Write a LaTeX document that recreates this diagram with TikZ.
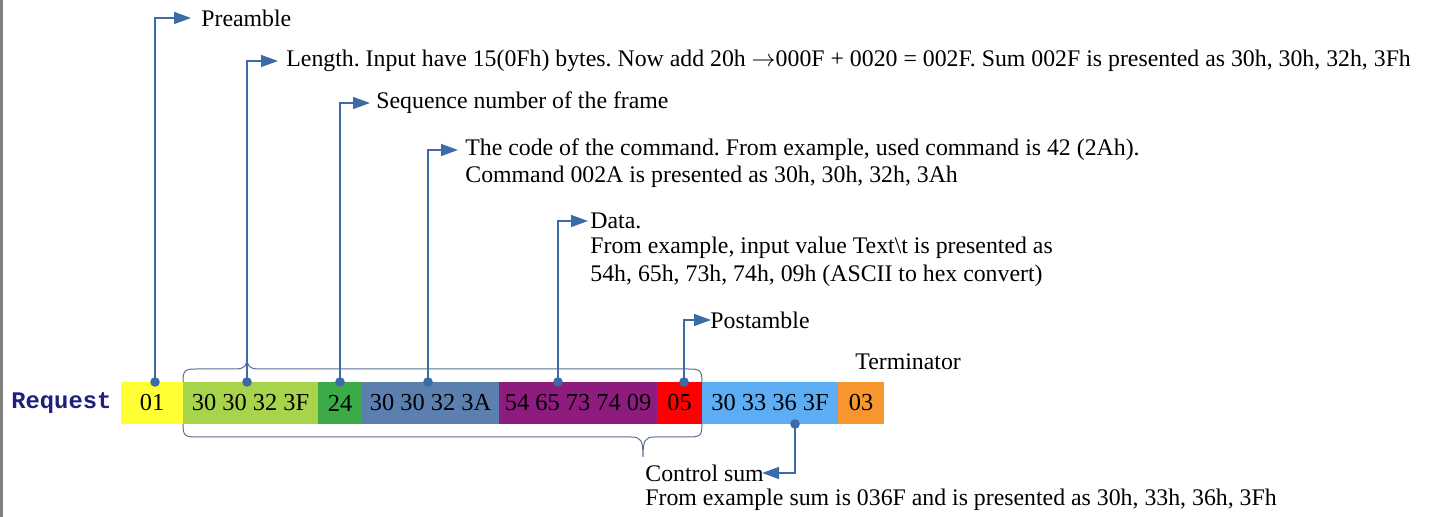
\documentclass[tikz,border=0pt]{standalone}
\usepackage{fontspec}
\setmainfont{Liberation Serif}
\setmonofont{Liberation Mono}
\usepackage{xcolor}
\usetikzlibrary{arrows.meta,calc,positioning}
\frenchspacing
\definecolor{frame}{HTML}{808080}
\definecolor{link}{HTML}{3B6CA8}
\definecolor{curl}{HTML}{5A6E8C}
\definecolor{req}{HTML}{1F1F80}
\definecolor{yel}{HTML}{FFFF33}
\definecolor{lime}{HTML}{A8D44C}
\definecolor{grn}{HTML}{3DAA48}
\definecolor{steel}{HTML}{5B7FAE}
\definecolor{plum}{HTML}{8E1C7E}
\definecolor{red}{HTML}{FF0000}
\definecolor{sky}{HTML}{5DADF5}
\definecolor{orng}{HTML}{F7962E}
\tikzset{
  fld/.style={draw=none, minimum height=21pt, inner sep=0pt, outer sep=0pt, font=\fontsize{12.2}{14}\selectfont},
  conn/.style={-{Triangle[length=8.5pt,width=6pt]}, line width=0.75pt, draw=link},
  dot/.style={circle, fill=link, inner sep=1.7pt},
  lbl/.style={anchor=west, inner sep=0pt, font=\fontsize{11.9}{14}\selectfont},
  brc/.style={draw=curl, line width=0.5pt}
}
\begin{document}
\begin{tikzpicture}[x=0.5pt, y=-0.5pt]
  \useasboundingbox (0,0) rectangle (1431,517);
  \draw[frame, line width=1.5pt] (1.5,0) -- (1.5,517);

  % the frame
  \node[anchor=west, inner sep=0pt, font=\ttfamily\bfseries\fontsize{11.9}{14}\selectfont, text=req] (request) at (11,403) {Request};
  \node[fld, fill=yel, minimum width=31pt] (pre) at (152,403) {01};
  \node[fld, fill=lime, minimum width=67.5pt, right=0pt of pre] (len) {30 30 32 3F};
  \node[fld, fill=grn, minimum width=22pt, right=0pt of len] (seq) {24};
  \node[fld, fill=steel, minimum width=68.5pt, right=0pt of seq] (cmd) {30 30 32 3A};
  \node[fld, fill=plum, minimum width=79pt, right=0pt of cmd] (dat) {54 65 73 74 09};
  \node[fld, fill=red, minimum width=22.5pt, right=0pt of dat] (post) {05};
  \node[fld, fill=sky, minimum width=68pt, right=0pt of post] (crc) {30 33 36 3F};
  \node[fld, fill=orng, minimum width=23pt, right=0pt of crc] (term) {03};

  % braces
  \draw[brc] (len.north west) .. controls (183,370) and (185,369) .. (197,369) -- (235,369)
    .. controls (245,369) and (247,366) .. (247,357) .. controls (247,366) and (249,369) .. (259,369)
    -- (688,369) .. controls (700,369) and (702,370) .. (post.north east);
  \draw[brc] (len.south west) .. controls (183,436) and (185,437) .. (197,437) -- (631,437)
    .. controls (641,437) and (643,440) .. (643,457) .. controls (643,440) and (645,437) .. (655,437)
    -- (688,437) .. controls (700,437) and (702,436) .. (post.south east);

  % labels
  \node[lbl] (prelbl) at (201,18) {Preamble};
  \node[lbl] (lenlbl) at (286,61) {Length. Input have 15(0Fh) bytes. Now add 20h $\rightarrow$000F + 0020 = 002F. Sum 002F is presented as 30h, 30h, 32h, 3Fh};
  \node[lbl] (seqlbl) at (376,103) {Sequence number of the frame};
  \node[lbl] (cmdlbl) at (465,150) {The code of the command. From example, used command is 42 (2Ah).};
  \node[lbl] (cmdnote) at (465,177) {Command 002A is presented as 30h, 30h, 32h, 3Ah};
  \node[lbl] (datlbl) at (590,221) {Data.};
  \node[lbl] (datnote) at (590,248) {From example, input value Text\textbackslash t is presented as};
  \node[lbl] (datnote2) at (590,276) {54h, 65h, 73h, 74h, 09h (ASCII to hex convert)};
  \node[lbl] (postlbl) at (710,320) {Postamble};
  \node[lbl] (termlbl) at (855,362) {Terminator};
  \node[lbl] (crclbl) at (645,473) {Control sum};
  \node[lbl] (crcnote) at (645,500) {From example sum is 036F and is presented as 30h, 33h, 36h, 3Fh};

  % connectors
  \coordinate (d1) at (155,382);
  \coordinate (d2) at (247,382);
  \coordinate (d3) at (340,382);
  \coordinate (d4) at (428,382);
  \coordinate (d5) at (558,382);
  \coordinate (d6) at (684,382);
  \coordinate (d7) at (795,424);
  \draw[conn] (d1) |- ($(prelbl.west)+(-10,0)$);
  \draw[conn] (d2) |- ($(lenlbl.west)+(-8,0)$);
  \draw[conn] (d3) |- ($(seqlbl.west)+(-6,0)$);
  \draw[conn] (d4) |- ($(cmdlbl.west)+(-7,0)$);
  \draw[conn] (d5) |- ($(datlbl.west)+(-2,0)$);
  \draw[conn] (d6) |- ($(postlbl.west)+(1,0)$);
  \draw[conn] (d7) |- ($(crclbl.east)+(-2,0)$);
  \foreach \d in {d1,d2,d3,d4,d5,d6,d7}
    \node[dot] at (\d) {};
\end{tikzpicture}
\end{document}
